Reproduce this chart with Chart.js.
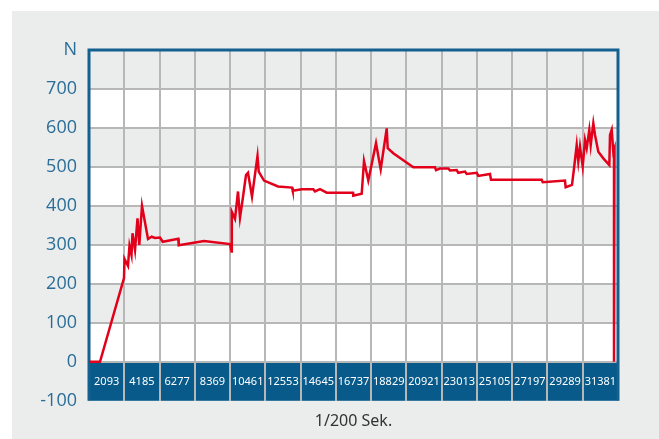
<!DOCTYPE html>
<html>
<head>
<meta charset="utf-8">
<script src="https://cdn.jsdelivr.net/npm/chart.js@4"></script>
<style>
    html, body { margin: 0; padding: 0; background: #fff; }
    #wrap { width: 659px; height: 439px; }
</style>
</head>
<body>
<div id="wrap"><canvas id="forceChart" width="659" height="439"></canvas></div>
<script>
const timeValues = [
    0, 653, 2076, 2106, 2313, 2402, 2521, 2580, 2729, 2877, 2984, 3144, 3500, 3719, 3915, 4212,
    4372, 5297, 5321, 6822, 8364, 8453, 8471, 8661, 8839, 8957, 9135, 9313, 9432, 9669, 9995,
    10067, 10381, 11212, 12042, 12084, 12618, 13306, 13406, 13703, 14100, 15661, 15678, 16177,
    16313, 16568, 17025, 17304, 17660, 17719, 18051, 19238, 20525, 20584, 20821, 21313, 21414,
    21811, 21906, 22304, 22404, 22998, 23093, 23787, 23847, 26854, 26914, 28235, 28276, 28651,
    28770, 28930, 29025, 29126, 29286, 29423, 29524, 29678, 29761, 29916, 30016, 30212, 30509,
    30865, 30906, 31007, 31101, 31172, 31143
];
const forceValues = [
    0, 0, 215, 264, 246, 298, 274, 330, 287, 368, 300, 400, 315, 321, 318, 319,
    308, 316, 299, 310, 302, 283, 385, 367, 437, 370, 423, 479, 485, 424, 528,
    488, 465, 450, 447, 439, 443, 443, 437, 443, 434, 434, 426, 431,
    515, 465, 561, 494, 599, 548, 535, 499, 499, 492, 496, 496, 491,
    492, 485, 488, 482, 485, 477, 482, 467, 467, 461, 465, 448, 454,
    496, 556, 514, 552, 501, 569, 548, 595, 556, 612, 582, 539, 522,
    505, 582, 595, 539, 548, 0
];

// Category labels shown in the blue band (one per grid cell)
const cellLabels = ['2093', '4185', '6277', '8369', '10461', '12553', '14645', '16737',
    '18829', '20921', '23013', '25105', '27197', '29289', '31381'];
const cellStep = 2092;
const yTicks = { min: -100, max: 800, step: 100, topLabel: 'N' };
const xTitle = '1/200 Sek.';

const panelGray = '#ebecec';
const bandBlue = '#075a89';
const frameBlue = '#14608f';
const gridGray = '#b7b7b7';

const backgroundPlugin = {
    id: 'background',
    beforeDraw(chart) {
        const { ctx, chartArea: a, scales: { y } } = chart;
        ctx.save();
        ctx.fillStyle = '#fff';
        ctx.fillRect(0, 0, chart.width, chart.height);
        ctx.fillStyle = panelGray;
        ctx.fillRect(12, 11, chart.width - 12, chart.height - 11);
        // alternating rows
        ctx.fillStyle = '#fff';
        ctx.fillRect(a.left, a.top, a.right - a.left, a.bottom - a.top);
        ctx.fillStyle = panelGray;
        for (let v = 100; v < yTicks.max; v += 200) {
            const top = y.getPixelForValue(v + 100);
            const bot = y.getPixelForValue(v);
            ctx.fillRect(a.left, top, a.right - a.left, bot - top);
        }
        // blue label band between -100 and 0
        const b0 = y.getPixelForValue(0);
        ctx.fillStyle = bandBlue;
        ctx.fillRect(a.left, b0, a.right - a.left, a.bottom - b0);
        ctx.restore();
    },
    beforeDatasetsDraw(chart) {
        const { ctx, chartArea: a, scales: { x, y } } = chart;
        ctx.save();
        // cell labels
        ctx.fillStyle = '#ffffff';
        ctx.font = '11px "Noto Sans"';
        ctx.textAlign = 'center';
        ctx.textBaseline = 'middle';
        const midY = (y.getPixelForValue(0) + a.bottom) / 2 + 1;
        cellLabels.forEach((lbl, i) => {
            ctx.fillText(lbl, x.getPixelForValue((i + 0.5) * cellStep), midY);
        });
        // frame
        ctx.strokeStyle = frameBlue;
        ctx.lineWidth = 3;
        ctx.beginPath();
        ctx.moveTo(a.left, a.bottom);
        ctx.lineTo(a.left, a.top);
        ctx.lineTo(a.right, a.top);
        ctx.lineTo(a.right, a.bottom);
        ctx.stroke();
        ctx.restore();
    }
};

const ctx = document.getElementById('forceChart').getContext('2d');
const forceChart = new Chart(ctx, {
    type: 'line',
    data: {
        datasets: [{
            data: timeValues.map((t, i) => ({ x: t, y: forceValues[i] })),
            borderColor: '#e3001b',
            borderWidth: 2.5,
            pointRadius: 0,
            tension: 0,
            fill: false
        }]
    },
    options: {
        responsive: false,
        animation: false,
        layout: { padding: { left: 0, top: 50, right: 41, bottom: 0 } },
        plugins: {
            legend: { display: false },
            tooltip: { enabled: false }
        },
        scales: {
            x: {
                type: 'linear',
                min: 0,
                max: cellStep * cellLabels.length,
                ticks: { stepSize: cellStep, display: false },
                grid: { color: gridGray, lineWidth: 2, drawTicks: false },
                border: { display: false },
                title: {
                    display: true,
                    text: xTitle,
                    color: '#333',
                    font: { family: '"Noto Sans"', size: 16 },
                    padding: { top: 11, bottom: 8 }
                }
            },
            y: {
                min: yTicks.min,
                max: yTicks.max,
                ticks: {
                    stepSize: yTicks.step,
                    color: '#2a6e98',
                    padding: 12,
                    font: { family: '"Open Sans"', size: 18 },
                    callback: v => (v === yTicks.max ? yTicks.topLabel : v)
                },
                grid: {
                    drawTicks: false,
                    lineWidth: 2,
                    color: c => (c.tick && (c.tick.value === yTicks.min || c.tick.value === yTicks.max) ? 'rgba(0,0,0,0)' : gridGray)
                },
                border: { display: false },
                afterFit: s => { s.width = 89; }
            }
        }
    },
    plugins: [backgroundPlugin]
});
</script>
</body>
</html>
